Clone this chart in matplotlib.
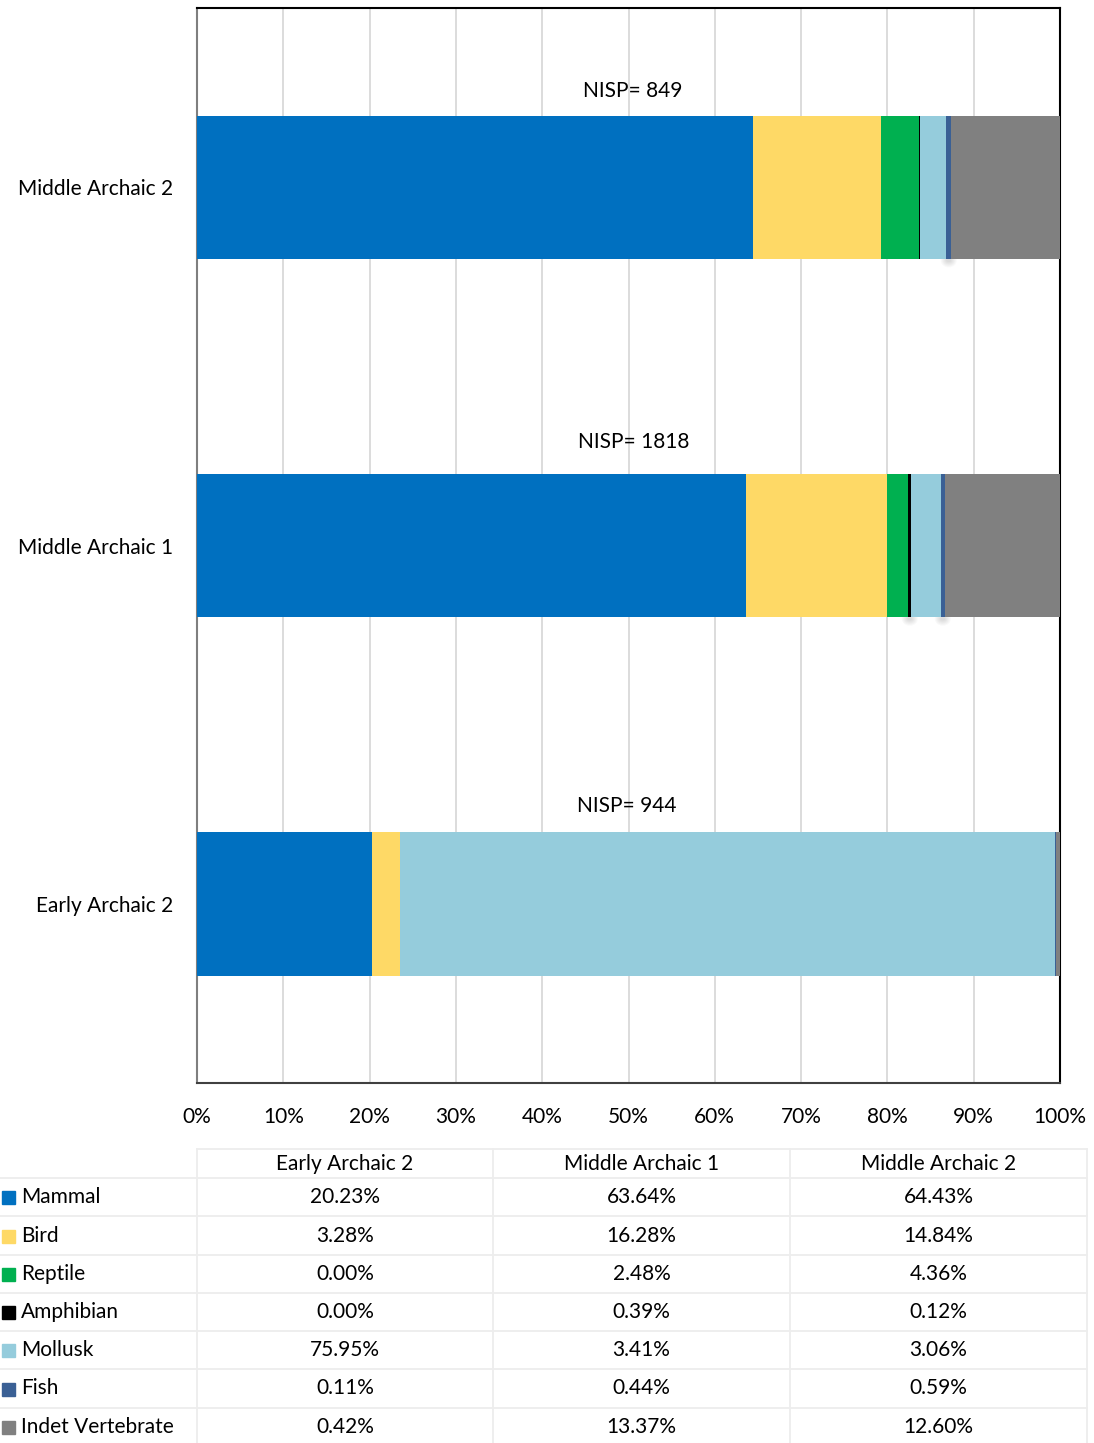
import matplotlib.pyplot as plt
from matplotlib.patches import Rectangle, Ellipse
from matplotlib.lines import Line2D
import numpy as np

plt.rcParams['font.family'] = ['Lato', 'DejaVu Sans']

periods = ["Early Archaic 2", "Middle Archaic 1", "Middle Archaic 2"]
nisp = [944, 1818, 849]
taxa = ["Mammal", "Bird", "Reptile", "Amphibian", "Mollusk", "Fish",
        "Indet Vertebrate"]
mammal = [20.23, 63.64, 64.43]
bird = [3.28, 16.28, 14.84]
reptile = [0.00, 2.48, 4.36]
amphibian = [0.00, 0.39, 0.12]
mollusk = [75.95, 3.41, 3.06]
fish = [0.11, 0.44, 0.59]
indet = [0.42, 13.37, 12.60]
series = [mammal, bird, reptile, amphibian, mollusk, fish, indet]
colors = ["#0070C0", "#FED966", "#00B050", "#000000", "#95CCDC",
          "#3A6095", "#808080"]
shadowed = [False, False, False, True, False, True, False]
# label placement for the NISP captions (x in %, y offset above bar centre)
nisp_x = [49.8, 50.6, 50.5]
nisp_dy = [0.274, 0.288, 0.269]
FS = 15

W, H = 1094, 1443
fig = plt.figure(figsize=(W / 100, H / 100), dpi=100)
ax = fig.add_axes([197 / W, 1 - 1083 / H, 863 / W, 1075 / H])

ypos = np.arange(len(periods))
left = np.zeros(len(periods))
for vals, col, shade in zip(series, colors, shadowed):
    vals = np.array(vals)
    ax.barh(ypos, vals, left=left, height=0.4, color=col, zorder=3)
    # faint blurred shadow under the thin segments
    if shade:
        for y, l, v in zip(ypos, left, vals):
            if v < 0.3 or (y == 2 and col == "#000000"):
                continue
            for k in range(6):
                ax.add_patch(Ellipse((l + v / 2, y - 0.205),
                                     0.6 + 0.25 * k, 0.008 + 0.006 * k,
                                     color="black", alpha=0.025, lw=0,
                                     zorder=2))
    left += vals

for y, n, x, dy in zip(ypos, nisp, nisp_x, nisp_dy):
    ax.text(x, y + dy, f"NISP= {n}", ha="center", va="center",
            fontsize=FS, color="#000000")

ax.set_xlim(0, 100)
ax.set_ylim(-0.5, 2.5)
ax.set_xticks(np.arange(0, 101, 10))
ax.set_xticklabels([f"{t}%" for t in range(0, 101, 10)])
ax.set_yticks(ypos)
ax.set_yticklabels(periods)
ax.tick_params(axis="both", length=0, labelsize=FS)
ax.tick_params(axis="x", pad=17)
ax.tick_params(axis="y", pad=17)
ax.grid(axis="x", color="#D9D9D9", lw=1.3, zorder=0)
for side in ["top", "right"]:
    ax.spines[side].set_color("black")
    ax.spines[side].set_linewidth(1.5)
ax.spines["left"].set_color("#7F7F7F")
ax.spines["left"].set_linewidth(1.5)
ax.spines["bottom"].set_color("#404040")
ax.spines["bottom"].set_linewidth(1.5)


# data table below the chart, laid out in pixel coordinates
def fx(px):
    return px / W


def fy(py):
    return 1 - py / H


col_edges = [197, 493, 790, 1087]
row_edges = [1149, 1178, 1216, 1255, 1293, 1331, 1369, 1408, 1446]
line_kw = dict(color="#EDEDED", lw=1.3, transform=fig.transFigure)

fig.add_artist(Line2D([fx(197), fx(1087)], [fy(1149)] * 2, **line_kw))
for r in row_edges[1:]:
    fig.add_artist(Line2D([fx(0), fx(1087)], [fy(r)] * 2, **line_kw))
for c in col_edges:
    fig.add_artist(Line2D([fx(c)] * 2, [fy(1149), fy(1446)], **line_kw))

for j, p in enumerate(periods):
    cx = (col_edges[j] + col_edges[j + 1]) / 2
    fig.text(fx(cx), fy(1164), p, ha="center", va="center", fontsize=FS)

for i, (name, vals, col) in enumerate(zip(taxa, series, colors)):
    cy = (row_edges[i + 1] + row_edges[i + 2]) / 2
    fig.add_artist(Rectangle((fx(2), fy(cy + 7)), 13 / W, 13 / H,
                             color=col, transform=fig.transFigure))
    fig.text(fx(21), fy(cy), name, ha="left", va="center", fontsize=FS)
    for j, v in enumerate(vals):
        cx = (col_edges[j] + col_edges[j + 1]) / 2
        fig.text(fx(cx), fy(cy), f"{v:.2f}%", ha="center", va="center",
                 fontsize=FS)

fig.savefig("out.png", dpi=100)
